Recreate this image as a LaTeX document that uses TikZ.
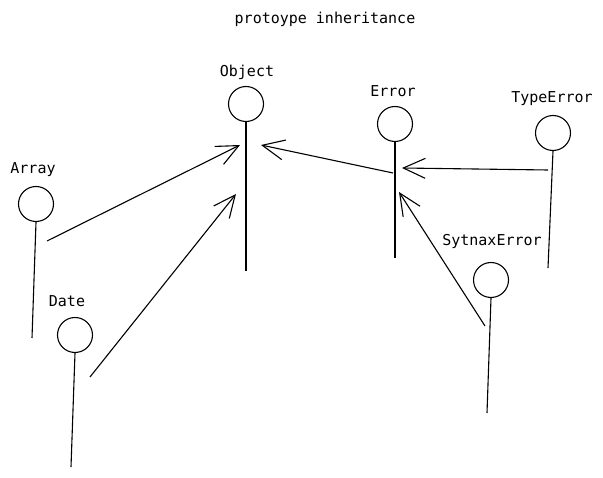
\documentclass[tikz,border=0pt]{standalone}
\usepackage{fontspec}
\setmonofont{DejaVu Sans Mono}
\usetikzlibrary{arrows.meta}

\tikzset{
  ball/.style={draw, circle, minimum size=35pt, inner sep=0pt, line width=1.1pt},
  lbl/.style={font=\ttfamily\fontsize{15}{18}\selectfont},
  stem/.style={line width=1.1pt},
  inherit/.style={line width=1.1pt, -{Straight Barb[length=22pt,width=20pt]}}
}

\begin{document}
\begin{tikzpicture}[x=1pt, y=-1pt]

\useasboundingbox (0,0) rectangle (603,478);

\node[lbl] (title) at (325,19) {protoype inheritance};

\node[lbl] (objlbl) at (247,72) {Object};
\node[ball] (obj) at (246,104) {};
\coordinate (objend) at (246,271);

\node[lbl] (errlbl) at (393,91) {Error};
\node[ball] (err) at (395,124) {};
\coordinate (errend) at (395,258);

\node[lbl] (typlbl) at (552,99) {TypeError};
\node[ball] (typ) at (553,133) {};
\coordinate (typend) at (548,268);

\node[lbl] (arrlbl) at (33,170) {Array};
\node[ball] (arr) at (36,204) {};
\coordinate (arrend) at (32,338);

\node[lbl] (datlbl) at (67,301) {Date};
\node[ball] (dat) at (75,335) {};
\coordinate (datend) at (71,467);

\node[lbl] (synlbl) at (492,241) {SytnaxError};
\node[ball] (syn) at (491,280) {};
\coordinate (synend) at (487,413);

\draw [stem] (obj.south) -- (objend);
\draw [stem] (err.south) -- (errend);
\draw [stem] (typ.south) -- (typend);
\draw [stem] (arr.south) -- (arrend);
\draw [stem] (dat.south) -- (datend);
\draw [stem] (syn.south) -- (synend);

\coordinate (arrfrom) at (47,241);
\coordinate (datfrom) at (90,377);
\coordinate (errfrom) at (393,173);
\coordinate (typfrom) at (548,170);
\coordinate (synfrom) at (485,326);
\coordinate (objtipa) at (240,145);
\coordinate (objtipb) at (236,194);
\coordinate (objtipc) at (261,145);
\coordinate (errtipa) at (402,168);
\coordinate (errtipb) at (399,192);

\draw [inherit] (arrfrom) -- (objtipa);
\draw [inherit] (datfrom) -- (objtipb);
\draw [inherit] (errfrom) -- (objtipc);
\draw [inherit] (typfrom) -- (errtipa);
\draw [inherit] (synfrom) -- (errtipb);

\end{tikzpicture}
\end{document}
